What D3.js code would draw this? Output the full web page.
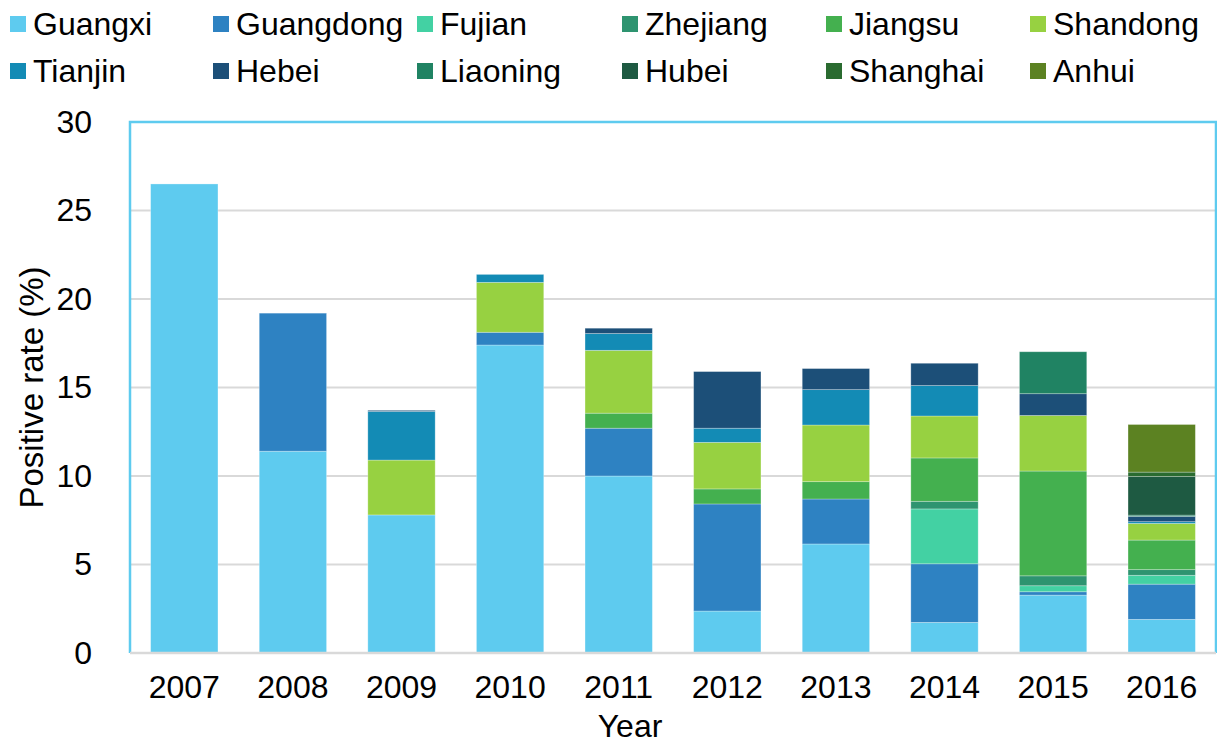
<!DOCTYPE html>
<html>
<head>
<meta charset="utf-8">
<script src="https://d3js.org/d3.v7.min.js"></script>
<style>
  body { margin: 0; background: #fff; }
  text { font-family: "Liberation Sans", Arial, sans-serif; fill: #000; }
</style>
</head>
<body>
<svg id="chart" width="1217" height="747"></svg>
<script>
// Data
const years = ["2007", "2008", "2009", "2010", "2011", "2012", "2013", "2014", "2015", "2016"];
const provinces = ["Guangxi", "Guangdong", "Fujian", "Zhejiang", "Jiangsu", "Shandong",
                   "Tianjin", "Hebei", "Liaoning", "Hubei", "Shanghai", "Anhui"];
const colors = ["#5ecbef", "#2e82c2", "#43d1a3", "#2e9470", "#44b04f", "#97d141",
                "#138bb5", "#1c4f78", "#208363", "#1e5a42", "#2a6b30", "#5c8222"];

const guangxi   = [26.5, 11.4, 7.8, 17.4, 10.0, 2.37, 6.16, 1.73, 3.27, 1.9];
const guangdong = [0, 7.8, 0, 0.72, 2.7, 6.05, 2.54, 3.31, 0.19, 1.99];
const fujian    = [0, 0, 0, 0, 0, 0, 0, 3.1, 0.34, 0.5];
const zhejiang  = [0, 0, 0, 0, 0, 0, 0, 0.43, 0.56, 0.32];
const jiangsu   = [0, 0, 0, 0, 0.85, 0.85, 0.98, 2.45, 5.92, 1.67];
const shandong  = [0, 0, 3.1, 2.82, 3.55, 2.63, 3.2, 2.37, 3.14, 0.94];
const tianjin   = [0, 0, 2.75, 0.45, 0.95, 0.8, 2.0, 1.72, 0, 0.1];
const hebei     = [0, 0, 0.06, 0, 0.3, 3.2, 1.19, 1.26, 1.23, 0.3];
const liaoning  = [0, 0, 0, 0, 0, 0, 0, 0, 2.37, 0.07];
const hubei     = [0, 0, 0, 0, 0, 0, 0, 0, 0, 2.18];
const shanghai  = [0, 0, 0, 0, 0, 0, 0, 0, 0, 0.25];
const anhui     = [0, 0, 0, 0, 0, 0, 0, 0, 0, 2.69];

const yTicks = [0, 5, 10, 15, 20, 25, 30];

const seriesValues = [guangxi, guangdong, fujian, zhejiang, jiangsu, shandong,
                      tianjin, hebei, liaoning, hubei, shanghai, anhui];

// table for d3.stack
const table = years.map((y, i) => {
      let row = { year: y };
      provinces.forEach((p, j) => { row[p] = seriesValues[j][i]; });
      return row;
});

// General Variables
const chart = d3.select("#chart");
const margin = { top: 122, right: 1, bottom: 94, left: 130 };
const innerWidth = 1217 - margin.left - margin.right;
const innerHeight = 747 - margin.top - margin.bottom;

// Scales
const xScale = d3.scaleBand()
      .domain(years)
      .range([0, innerWidth])
      .paddingInner(0.38)
      .paddingOuter(0.19);

const yScale = d3.scaleLinear()
      .domain([0, 30])
      .range([innerHeight, 0]);

const color = d3.scaleOrdinal().domain(provinces).range(colors);

const g = chart.append("g")
      .attr("transform", `translate(${margin.left},${margin.top})`);

// Gridlines
g.append("g")
      .selectAll("line")
      .data(yTicks.filter(t => t > 0 && t < 30))
      .enter().append("line")
      .attr("x1", 0)
      .attr("x2", innerWidth)
      .attr("y1", d => yScale(d))
      .attr("y2", d => yScale(d))
      .attr("stroke", "#d9d9d9")
      .attr("stroke-width", 2);

// Bars
const stacked = d3.stack().keys(provinces)(table);

g.selectAll("g.layer")
      .data(stacked).enter()
      .append("g")
      .attr("class", "layer")
      .attr("fill", d => color(d.key))
      .selectAll("rect")
      .data(d => d.filter(s => s[1] - s[0] > 0))
      .enter().append("rect")
      .attr("x", d => xScale(d.data.year))
      .attr("y", d => yScale(d[1]))
      .attr("width", xScale.bandwidth())
      .attr("height", d => yScale(d[0]) - yScale(d[1]))
      .attr("stroke", "#ffffff")
      .attr("stroke-opacity", 0.35)
      .attr("stroke-width", 0.8);

// Frame: top, left, right in light blue; bottom gray
const frame = g.append("g").attr("fill", "none");
frame.append("path")
      .attr("d", `M0,${innerHeight} V0 H${innerWidth} V${innerHeight}`)
      .attr("stroke", "#5ecbef")
      .attr("stroke-width", 2.5);
frame.append("line")
      .attr("x1", 0).attr("x2", innerWidth)
      .attr("y1", innerHeight).attr("y2", innerHeight)
      .attr("stroke", "#d9d9d9")
      .attr("stroke-width", 2.5);

// Axes
const yAxis = d3.axisLeft(yScale).tickValues(yTicks).tickSize(0).tickPadding(38);
const yAxisG = g.append("g").call(yAxis);
yAxisG.select(".domain").remove();
yAxisG.selectAll("text")
      .attr("font-size", "32px")
      .attr("fill", "#000");

const xAxis = d3.axisBottom(xScale).tickSize(0).tickPadding(22);
const xAxisG = g.append("g")
      .attr("transform", `translate(0,${innerHeight})`)
      .call(xAxis);
xAxisG.select(".domain").remove();
xAxisG.selectAll("text")
      .attr("font-size", "32px")
      .attr("fill", "#000");

// Axis titles
chart.append("text")
      .text("Year")
      .attr("x", 630)
      .attr("y", 737)
      .attr("text-anchor", "middle")
      .attr("font-size", "32px");

chart.append("text")
      .text("Positive rate (%)")
      .attr("transform", `translate(43,${margin.top + innerHeight / 2}) rotate(-90)`)
      .attr("text-anchor", "middle")
      .attr("font-size", "33px");

// Legend: 6 columns x 2 rows
const legendX = [10, 213, 417, 622, 826, 1030];
const legendY = [24, 71];
const legend = chart.append("g");
provinces.forEach((p, i) => {
      const lx = legendX[i % 6];
      const ly = legendY[Math.floor(i / 6)];
      legend.append("rect")
            .attr("x", lx)
            .attr("y", ly - 8)
            .attr("width", 16)
            .attr("height", 16)
            .attr("fill", color(p));
      legend.append("text")
            .text(p)
            .attr("x", lx + 23)
            .attr("y", ly + 11)
            .attr("font-size", "32px");
});
</script>
</body>
</html>
